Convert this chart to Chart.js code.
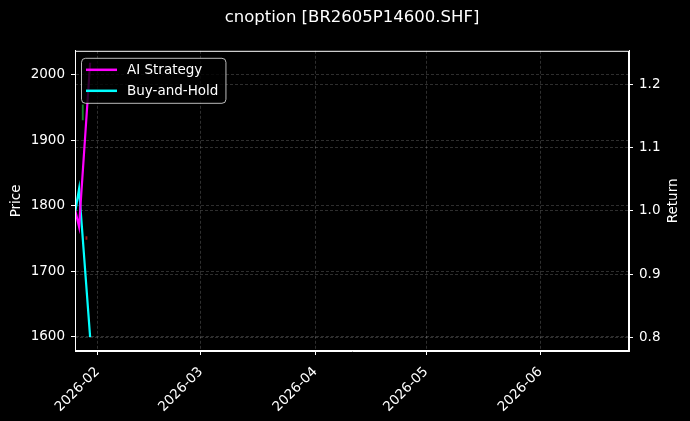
<!DOCTYPE html>
<html>
<head>
<meta charset="utf-8">
<script src="https://cdn.jsdelivr.net/npm/chart.js@4"></script>
<style>
  html, body { margin: 0; padding: 0; background: #000; }
  #wrap { width: 690px; height: 421px; }
</style>
</head>
<body>
<div id="wrap"><canvas id="myChart"></canvas></div>
<script>
// dates of the series (daily)
const dates = ["2026-01-26", "2026-01-27", "2026-01-28", "2026-01-29", "2026-01-30"];
// return series (right axis)
const aiStrategy = [1.0, 0.975, null, null, 1.235];
const buyAndHold = [1.0, 1.035, null, null, 0.80];
// price candles (left axis), low/high of the body
const candleLow = [null, null, 1931, 1749, null];
const candleHigh = [null, null, 1954, 1753, null];
const candleUp = [null, null, true, false, null];
// x axis range and month tick labels
const xStart = "2026-01-26";
const xEnd = "2026-06-25";
const monthTicks = ["2026-02", "2026-03", "2026-04", "2026-05", "2026-06"];
const priceTicks = [1600, 1700, 1800, 1900, 2000];
const returnTicks = [0.8, 0.9, 1.0, 1.1, 1.2];

const FONT = "DejaVu Sans";
const FS = 13.5;
const dayNum = (s) => Date.UTC(+s.slice(0, 4), +s.slice(5, 7) - 1, +s.slice(8, 10)) / 86400000;
const dayLabel = (v) => new Date(Math.round(v) * 86400000).toISOString().slice(0, 7);

const toPoints = (arr) => dates.map((d, i) => ({ x: dayNum(d), y: arr[i] })).filter(p => p.y !== null);
const candles = [];
const candleColors = [];
dates.forEach((d, i) => {
  if (candleLow[i] !== null) {
    candles.push({ x: dayNum(d), y: [candleLow[i], candleHigh[i]] });
    candleColors.push(candleUp[i] ? "#16862a" : "#a01818");
  }
});

const gridStyle = {
  color: "rgba(255,255,255,0.3)",
  lineWidth: 0.6,
  tickColor: "#ffffff",
  tickLength: 4,
  tickWidth: 1,
  tickBorderDash: []
};
const borderStyle = { color: "#ffffff", width: 1, dash: [3, 2] };

// frame round the plot, right axis title, legend box in the upper left corner
const framePlugin = {
  id: "frame",
  afterDatasetsDraw(chart) {
    const { ctx, chartArea: a } = chart;
    ctx.save();
    ctx.strokeStyle = "#ffffff";
    ctx.lineWidth = 1;
    ctx.setLineDash([]);
    ctx.strokeRect(a.left + 0.5, a.top + 0.5, a.right - a.left - 1, a.bottom - a.top - 1);

    // right axis label, read bottom to top
    ctx.save();
    ctx.translate(673, (a.top + a.bottom) / 2);
    ctx.rotate(-Math.PI / 2);
    ctx.font = FS + "px '" + FONT + "'";
    ctx.fillStyle = "#ffffff";
    ctx.textAlign = "center";
    ctx.textBaseline = "middle";
    ctx.fillText("Return", 0, 0);
    ctx.restore();

    const items = chart.data.datasets.filter(ds => ds.type === "line");
    ctx.font = FS + "px '" + FONT + "'";
    let tw = 0;
    items.forEach(ds => { tw = Math.max(tw, ctx.measureText(ds.label).width); });
    const bx = a.left + 6, by = a.top + 7;
    const bw = 46 + tw + 7, bh = 45;
    ctx.beginPath();
    ctx.roundRect(bx + 0.5, by + 0.5, bw, bh, 4);
    ctx.fillStyle = "rgba(0,0,0,0.8)";
    ctx.fill();
    ctx.strokeStyle = "rgba(220,220,220,0.85)";
    ctx.lineWidth = 1;
    ctx.stroke();
    items.forEach((ds, i) => {
      const y = by + 12 + i * 21;
      ctx.beginPath();
      ctx.strokeStyle = ds.borderColor;
      ctx.lineWidth = 2.5;
      ctx.moveTo(bx + 5, y);
      ctx.lineTo(bx + 36, y);
      ctx.stroke();
      ctx.fillStyle = "#ffffff";
      ctx.textBaseline = "middle";
      ctx.textAlign = "left";
      ctx.fillText(ds.label, bx + 46, y + 1);
    });
    ctx.restore();
  }
};

const ctx = document.getElementById("myChart").getContext("2d");
const myChart = new Chart(ctx, {
  type: "line",
  data: {
    datasets: [
      {
        type: "bar",
        label: "Price",
        data: candles,
        yAxisID: "y",
        backgroundColor: candleColors,
        borderWidth: 0,
        barThickness: 1.2
      },
      {
        type: "line",
        label: "AI Strategy",
        data: toPoints(aiStrategy),
        yAxisID: "y1",
        borderColor: "#ff00ff",
        borderWidth: 2.2,
        pointRadius: 0,
        tension: 0
      },
      {
        type: "line",
        label: "Buy-and-Hold",
        data: toPoints(buyAndHold),
        yAxisID: "y1",
        borderColor: "#00ffff",
        borderWidth: 2.2,
        pointRadius: 0,
        tension: 0
      }
    ]
  },
  options: {
    responsive: true,
    maintainAspectRatio: false,
    animation: false,
    layout: { padding: 0 },
    plugins: {
      legend: { display: false },
      tooltip: { enabled: false },
      title: {
        display: true,
        fullSize: false,
        text: "cnoption [BR2605P14600.SHF]",
        color: "#ffffff",
        font: { family: FONT, size: 16.5, weight: "normal" },
        padding: { top: 8, bottom: 23 }
      }
    },
    scales: {
      x: {
        type: "linear",
        min: dayNum(xStart) - 0.1,
        max: dayNum(xEnd),
        offset: false,
        grid: Object.assign({ offset: false }, gridStyle),
        border: borderStyle,
        afterBuildTicks: (scale) => {
          scale.ticks = monthTicks.map(m => ({ value: dayNum(m + "-01") }));
        },
        afterFit: (scale) => { scale.height = 70; },
        ticks: {
          color: "#ffffff",
          font: { family: FONT, size: FS },
          autoSkip: false,
          maxRotation: 45,
          minRotation: 45,
          padding: 9,
          callback: (v) => dayLabel(v)
        }
      },
      y: {
        position: "left",
        min: 1578.6,
        max: 2036.6,
        grid: gridStyle,
        border: borderStyle,
        afterBuildTicks: (scale) => {
          scale.ticks = priceTicks.map(v => ({ value: v }));
        },
        afterFit: (scale) => { scale.width = 75; },
        ticks: {
          color: "#ffffff",
          font: { family: FONT, size: FS },
          padding: 6,
          callback: (v) => String(v)
        },
        title: {
          display: true,
          text: "Price",
          color: "#ffffff",
          font: { family: FONT, size: FS },
          padding: { top: 8, bottom: 0 }
        }
      },
      y1: {
        position: "right",
        min: 0.778,
        max: 1.254,
        grid: gridStyle,
        border: borderStyle,
        afterBuildTicks: (scale) => {
          scale.ticks = returnTicks.map(v => ({ value: v }));
        },
        afterFit: (scale) => { scale.width = 61; },
        ticks: {
          color: "#ffffff",
          font: { family: FONT, size: FS },
          padding: 6,
          callback: (v) => v.toFixed(1)
        }
      }
    }
  },
  plugins: [framePlugin]
});
</script>
</body>
</html>
